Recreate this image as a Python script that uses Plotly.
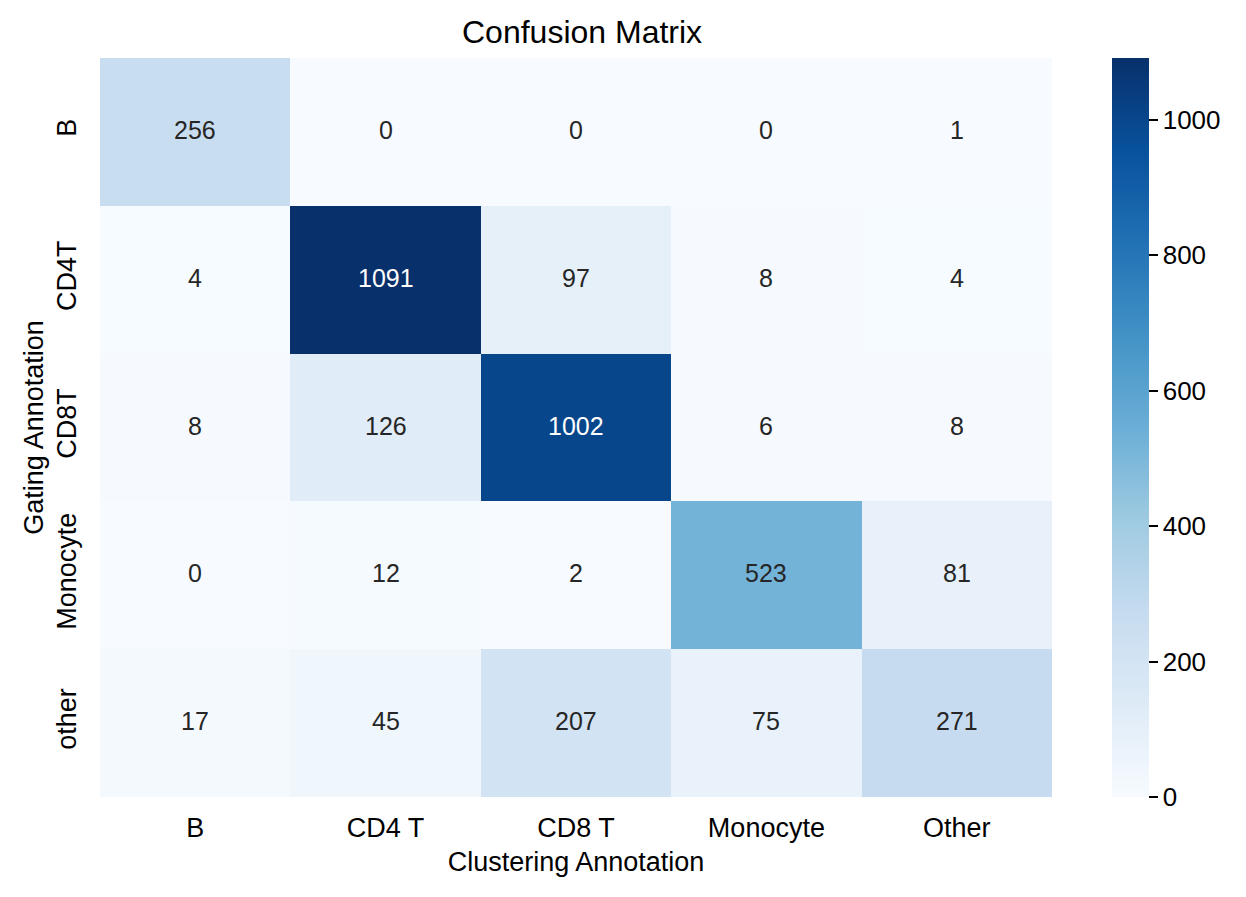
import plotly.graph_objects as go
import numpy as np

clustering = ["B", "CD4 T", "CD8 T", "Monocyte", "Other"]
gating = ["B", "CD4T", "CD8T", "Monocyte", "other"]

row_b = [256, 0, 0, 0, 1]
row_cd4t = [4, 1091, 97, 8, 4]
row_cd8t = [8, 126, 1002, 6, 8]
row_mono = [0, 12, 2, 523, 81]
row_other = [17, 45, 207, 75, 271]

cbar_ticks = [0, 200, 400, 600, 800, 1000]

z = np.array([row_b, row_cd4t, row_cd8t, row_mono, row_other])
zmax = z.max()

# matplotlib "Blues"
blues = ["#f7fbff", "#deebf7", "#c6dbef", "#9ecae1", "#6baed6",
         "#4292c6", "#2171b5", "#08519c", "#08306b"]
scale = [[i / (len(blues) - 1), c] for i, c in enumerate(blues)]

font = "Arial, Liberation Sans, sans-serif"

fig = go.Figure()
fig.add_trace(go.Heatmap(
    z=z, x=clustering, y=gating,
    colorscale=scale, zmin=0, zmax=zmax,
    hoverongaps=False,
    colorbar=dict(
        thickness=37, len=1, lenmode="fraction",
        x=1.063, xanchor="left", y=0.5, yanchor="middle",
        xpad=0, ypad=0,
        outlinewidth=0,
        tickvals=cbar_ticks,
        tickprefix="\u00a0",
        ticks="outside", ticklen=9, tickwidth=1.5, tickcolor="black",
        tickfont=dict(family=font, size=26, color="black"),
    ),
))

# cell labels, light text on dark cells like seaborn
for i, g in enumerate(gating):
    for j, c in enumerate(clustering):
        v = z[i, j]
        fig.add_annotation(
            x=c, y=g, text=str(v), showarrow=False, yshift=2,
            font=dict(family=font, size=25,
                      color="white" if v > 0.6 * zmax else "#262626"),
        )

# page body has an 8px margin, so the figure is a bit smaller than the window
fig.update_layout(
    width=1238, height=889,
    paper_bgcolor="white", plot_bgcolor="white",
    margin=dict(l=92, r=194, t=50, b=100, autoexpand=False),
    title=dict(text="Confusion Matrix", x=0.4637, xanchor="center",
               y=1 - 24 / 889, yanchor="middle",
               font=dict(family=font, size=32, color="black")),
    xaxis=dict(
        title=dict(text="Clustering Annotation", standoff=10,
                   font=dict(family=font, size=27, color="black")),
        tickfont=dict(family=font, size=27, color="black"),
        ticks="", showgrid=False, zeroline=False, showline=False,
        ticklabelstandoff=12, automargin=False,
    ),
    yaxis=dict(
        title=dict(text="Gating Annotation", standoff=0,
                   font=dict(family=font, size=27, color="black")),
        tickfont=dict(family=font, size=27, color="black"),
        tickangle=-90, autorange="reversed",
        ticks="", showgrid=False, zeroline=False, showline=False,
        ticklabelstandoff=18, automargin=False,
    ),
)

fig.write_html("out.html")
